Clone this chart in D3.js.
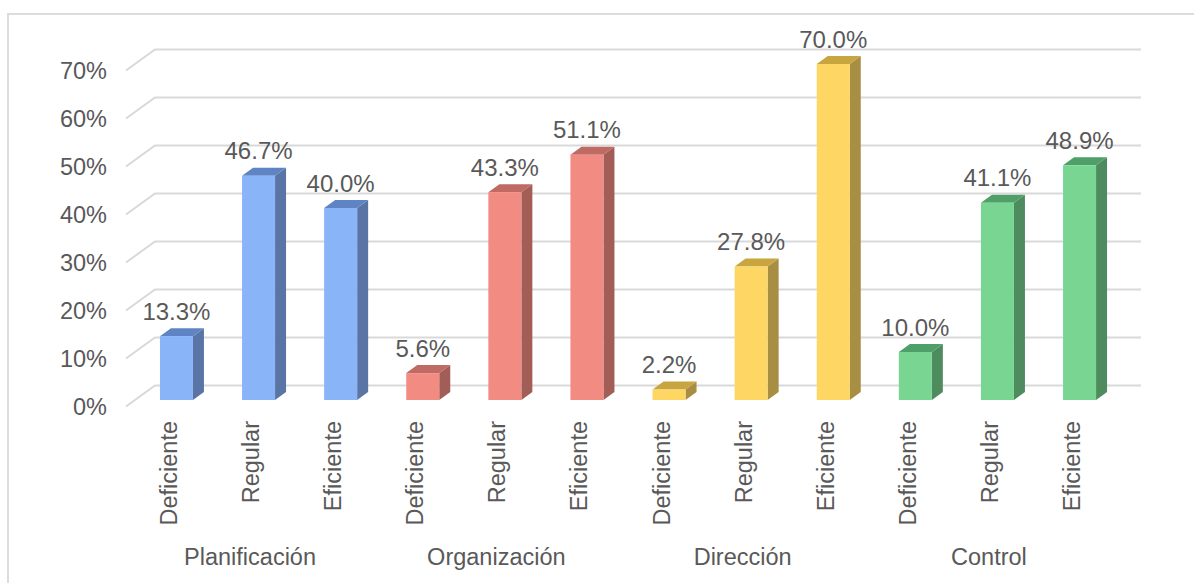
<!DOCTYPE html>
<html>
<head>
<meta charset="utf-8">
<script src="https://cdn.jsdelivr.net/npm/d3@7"></script>
<style>
  html, body { margin: 0; background: #fff; overflow: hidden; }
  text { font-family: "Liberation Sans", Arial, sans-serif; fill: #595959; }
  .domain { display: none; }
  .tick line { display: none; }
</style>
</head>
<body>
<svg id="chart" width="1194" height="583"></svg>
<script>
const groups = ['Planificación', 'Organización', 'Dirección', 'Control'];
const levels = ['Deficiente', 'Regular', 'Eficiente'];
const planificacion = [13.3, 46.7, 40.0];
const organizacion = [5.6, 43.3, 51.1];
const direccion = [2.2, 27.8, 70.0];
const control = [10.0, 41.1, 48.9];
const seriesValues = [planificacion, organizacion, direccion, control];
const yTicks = [0, 10, 20, 30, 40, 50, 60, 70];

const frontColors = ['#8ab4f8', '#f28b82', '#fdd663', '#78d692'];
const topColors = ['#5f84c4', '#bf6a62', '#c9a53f', '#4f9f69'];
const sideColors = ['#5a75a5', '#a35d57', '#a88e42', '#4e8c60'];

const bars = [];
groups.forEach((g, i) => {
  levels.forEach((l, j) => {
    bars.push({key: i + '-' + j, group: i, level: l, value: seriesValues[i][j]});
  });
});

const svg = d3.select('#chart');

// frame runs off the right and bottom of the picture
svg.append('rect')
   .attr('x', 8).attr('y', 14)
   .attr('width', 1300).attr('height', 700)
   .attr('fill', '#fff')
   .attr('stroke', '#dcdcdc')
   .attr('stroke-width', 2);

const x = d3.scaleBand()
            .domain(bars.map((d) => d.key))
            .range([135.4, 1120.6])
            .paddingInner(0.598)
            .paddingOuter(0.299);
const y = d3.scaleLinear().domain([0, 70]).range([400, 64]);

// 3d offsets of the floor and of the bars
const wall = {x0: 126, x1: 155, x2: 1141, front: 6.5, back: -14.5};
const depth = {x: 11, y: -8};

// gridlines, with the slanted side wall
const grid = svg.append('g');
grid.selectAll('path')
    .data(yTicks)
    .enter()
    .append('path')
    .attr('fill', 'none')
    .attr('stroke', '#d9d9d9')
    .attr('stroke-width', 2)
    .attr('d', (d) => `M${wall.x0},${y(d) + wall.front}L${wall.x1},${y(d) + wall.back}L${wall.x2},${y(d) + wall.back}`);

// y axis labels
svg.append('g')
   .attr('transform', `translate(118, ${wall.front})`)
   .call(d3.axisLeft(y).tickValues(yTicks).tickFormat((d) => d + '%').tickSize(0).tickPadding(11))
   .selectAll('text')
   .attr('font-size', 23.5)
   .style('font-family', '"Liberation Sans", Arial, sans-serif');

// bars
const bar = svg.selectAll('g.bar')
               .data(bars)
               .enter()
               .append('g')
               .classed('bar', true);

bar.append('path')
   .attr('fill', (d) => sideColors[d.group])
   .attr('d', (d) => {
     const r = x(d.key) + x.bandwidth();
     return `M${r},${y(0)}L${r + depth.x},${y(0) + depth.y}L${r + depth.x},${y(d.value) + depth.y}L${r},${y(d.value)}Z`;
   });
bar.append('path')
   .attr('fill', (d) => topColors[d.group])
   .attr('d', (d) => {
     const l = x(d.key);
     const r = l + x.bandwidth();
     const t = y(d.value);
     return `M${l},${t}L${l + depth.x},${t + depth.y}L${r + depth.x},${t + depth.y}L${r},${t}Z`;
   });
bar.append('rect')
   .attr('x', (d) => x(d.key))
   .attr('y', (d) => y(d.value))
   .attr('width', x.bandwidth())
   .attr('height', (d) => y(0) - y(d.value))
   .attr('fill', (d) => frontColors[d.group]);

bar.append('text')
   .attr('x', (d) => x(d.key) + x.bandwidth() / 2)
   .attr('y', (d) => y(d.value) - 16.5)
   .attr('text-anchor', 'middle')
   .attr('font-size', 24)
   .text((d) => d.value.toFixed(1) + '%');

// rotated level labels
bar.append('text')
   .attr('transform', (d) => `translate(${x(d.key) + x.bandwidth() / 2 + 0.5}, 421) rotate(-90)`)
   .attr('text-anchor', 'end')
   .attr('font-size', 23.5)
   .text((d) => d.level);

// group labels, sitting a little left of the group's middle bar
svg.selectAll('text.group')
   .data(groups)
   .enter()
   .append('text')
   .classed('group', true)
   .attr('x', (d, i) => x(i + '-1') + x.bandwidth() / 2 - 8.5)
   .attr('y', 565)
   .attr('text-anchor', 'middle')
   .attr('font-size', 23.5)
   .text((d) => d);
</script>
</body>
</html>
